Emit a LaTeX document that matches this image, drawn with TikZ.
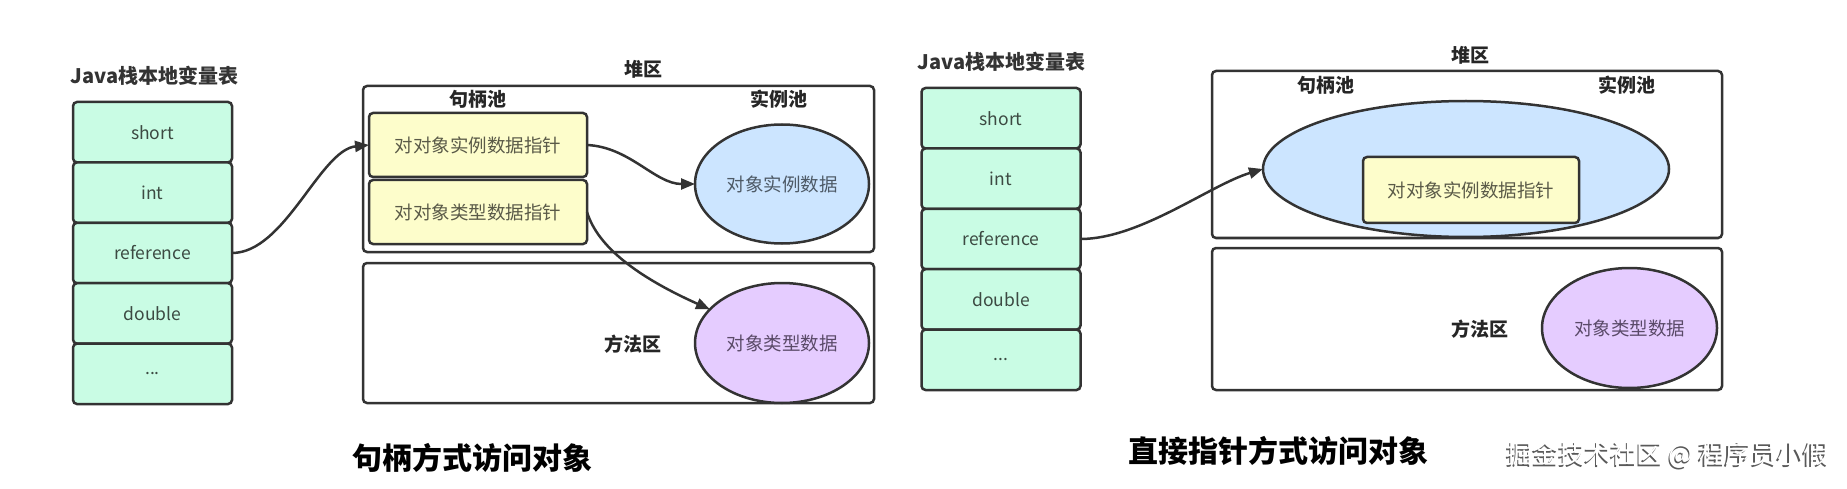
\documentclass[tikz,border=0pt]{standalone}
\usepackage{fontspec}
\setmainfont{Noto Sans CJK SC}
\usetikzlibrary{shapes.geometric,arrows.meta}
\definecolor{lc}{HTML}{333333}
\definecolor{mint}{HTML}{C9FCE4}
\definecolor{yel}{HTML}{FDFDCB}
\definecolor{blu}{HTML}{CCE5FF}
\definecolor{pur}{HTML}{E5CCFF}
\definecolor{tc}{HTML}{3C4A42}
\definecolor{tcy}{HTML}{5A5A48}
\definecolor{tcb}{HTML}{4E5A66}
\definecolor{tcp}{HTML}{5A4A68}
\begin{document}
\begin{tikzpicture}[x=1pt,y=-1pt,
  every node/.style={inner sep=0pt,outer sep=0pt},
  cell/.style={draw=lc,line width=2.5pt,fill=mint,rounded corners=4pt,minimum width=159pt,minimum height=60.4pt,text=tc,font=\fontsize{17.5}{20}\selectfont},
  region/.style={draw=lc,line width=2.5pt,rounded corners=4pt},
  ptr/.style={draw=lc,line width=2.5pt,fill=yel,rounded corners=4pt,text=tcy,font=\fontsize{18.5}{22}\selectfont},
  oval/.style={ellipse,draw=lc,line width=2.5pt,font=\fontsize{18.5}{22}\selectfont},
  lbl/.style={font=\bfseries\fontsize{19}{22}\selectfont,text=black!85},
  ttl/.style={font=\bfseries\fontsize{20}{24}\selectfont,text=black!80},
  big/.style={font=\bfseries\fontsize{30}{34}\selectfont,text=black},
  wmk/.style={font=\fontsize{26}{30}\selectfont},
  conn/.style={draw=lc,line width=2.5pt,-{Triangle[length=14pt,width=11pt]}},
]
\useasboundingbox (0,0) rectangle (1847,489);
% ---------- left diagram: handle access ----------
\node[ttl] (tA) at (154.5,76) {Java栈本地变量表};
\node[cell] (a1) at (152.5,132.2) {short};
\node[cell] (a2) at (152.5,192.6) {int};
\node[cell] (a3) at (152.5,253) {reference};
\node[cell] (a4) at (152.5,313.4) {double};
\node[cell] (a5) at (152.5,373.8) {...};

\node[region,minimum width=511pt,minimum height=166pt] (hA) at (618.5,169) {};
\node[region,minimum width=511pt,minimum height=140pt] (mA) at (618.5,333) {};
\node[lbl] (hAl) at (643,69) {堆区};
\node[lbl] (pA1) at (478,99) {句柄池};
\node[lbl] (pA2) at (779,99) {实例池};
\node[lbl] (mAl) at (633,344) {方法区};

\node[ptr,minimum width=218pt,minimum height=64pt] (y1) at (478,145) {对对象实例数据指针};
\node[ptr,minimum width=218pt,minimum height=64pt] (y2) at (478,212) {对对象类型数据指针};
\node[oval,fill=blu,text=tcb,minimum width=174pt,minimum height=119pt] (e1) at (782,184) {对象实例数据};
\node[oval,fill=pur,text=tcp,minimum width=174pt,minimum height=120pt] (t1) at (782,343) {对象类型数据};

\draw[conn] (a3.east) .. controls (285,253) and (320,150) .. (y1.west);
\draw[conn] (y1.east) .. controls (630,147) and (655,184) .. (e1.west);
\draw[conn] (y2.east) .. controls (598,248) and (640,278) .. (t1.155);

\node[big] (capA) at (472,458) {句柄方式访问对象};

% ---------- right diagram: direct pointer ----------
\node[ttl] (tB) at (1001.5,62) {Java栈本地变量表};
\node[cell] (b1) at (1001,118.2) {short};
\node[cell] (b2) at (1001,178.6) {int};
\node[cell] (b3) at (1001,239) {reference};
\node[cell] (b4) at (1001,299.4) {double};
\node[cell] (b5) at (1001,359.8) {...};

\node[region,minimum width=510pt,minimum height=167pt] (hB) at (1467,154.5) {};
\node[region,minimum width=510pt,minimum height=142pt] (mB) at (1467,319) {};
\node[lbl] (hBl) at (1470,55) {堆区};
\node[lbl] (pB1) at (1326,85) {句柄池};
\node[lbl] (pB2) at (1627,85) {实例池};
\node[lbl] (mBl) at (1480,329) {方法区};

\node[oval,fill=blu,minimum width=406pt,minimum height=136pt] (e2) at (1466,169) {};
\node[ptr,minimum width=216pt,minimum height=66pt] (y3) at (1471,190) {对对象实例数据指针};
\node[oval,fill=pur,text=tcp,minimum width=175pt,minimum height=120pt] (t2) at (1629.5,328) {对象类型数据};

\draw[conn] (b3.east) .. controls (1140,239) and (1210,185) .. (e2.west);

\node[big] (capB) at (1278,451) {直接指针方式访问对象};
\node[wmk,text=black!65] (wms) at (1666.5,456.5) {掘金技术社区 @ 程序员小假};
\node[wmk,text=white] (wm) at (1668,455) {掘金技术社区 @ 程序员小假};
\end{tikzpicture}
\end{document}
